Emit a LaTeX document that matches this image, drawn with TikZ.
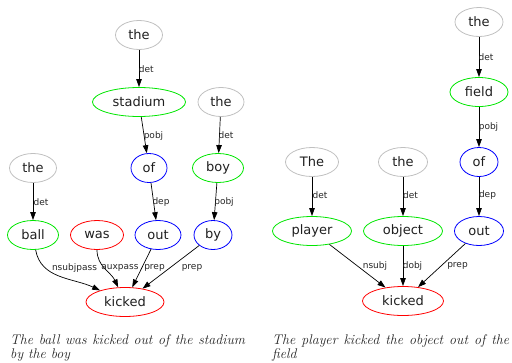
\documentclass[tikz,border=0pt]{standalone}
\usepackage{fontspec}
\newfontfamily\dvs{DejaVu Sans}
\usetikzlibrary{shapes.geometric,arrows.meta}
\definecolor{wgray}{RGB}{192,192,192}
\definecolor{wgreen}{RGB}{0,230,0}
\definecolor{wblue}{RGB}{0,0,255}
\definecolor{wred}{RGB}{255,0,0}
\tikzset{
  word/.style={ellipse, draw, line width=0.8pt, inner sep=0pt, minimum height=29pt,
    text=black!88, font=\dvs\fontsize{13}{15}\selectfont},
  detw/.style={word, draw=wgray},
  noun/.style={word, draw=wgreen},
  prepw/.style={word, draw=wblue},
  verb/.style={word, draw=wred},
  lbl/.style={inner sep=0pt, text=black!85, font=\dvs\fontsize{9}{10}\selectfont},
  arc/.style={-{Triangle[length=8pt,width=5.5pt]}, line width=0.7pt, black},
  captext/.style={inner sep=0pt, anchor=base west, font=\fontsize{14}{14.5}\selectfont\itshape, text=black!85}
}
\begin{document}
\begin{tikzpicture}[x=1pt,y=-1pt]
\useasboundingbox (0,0) rectangle (512,362);

% ---- first sentence ----
\node[detw, minimum width=47pt]  (a1)  at (139,35)  {the};
\node[noun, minimum width=93pt]  (a2)  at (139,102) {stadium};
\node[detw, minimum width=46pt]  (a3)  at (221,102) {the};
\node[prepw, minimum width=36pt] (a4)  at (149,168) {of};
\node[noun, minimum width=51pt]  (a5)  at (218,168) {boy};
\node[detw, minimum width=47pt]  (a6)  at (33,168)  {the};
\node[noun, minimum width=51pt]  (a7)  at (33,235)  {ball};
\node[verb, minimum width=53pt]  (a8)  at (97,235)  {was};
\node[prepw, minimum width=46pt] (a9)  at (158,235) {out};
\node[prepw, minimum width=38pt] (a10) at (213,235) {by};
\node[verb, minimum width=78pt]  (a11) at (125,302) {kicked};

\draw[arc] (a1) -- (a2);
\draw[arc] (a2) -- (a4);
\draw[arc] (a3) -- (a5);
\draw[arc] (a6) -- (a7);
\draw[arc] (a4) -- (a9);
\draw[arc] (a5) -- (a10);
\draw[arc] (a7) to[out=-80,in=155] (a11);
\draw[arc] (a8) to[out=-90,in=115] (a11);
\draw[arc] (a9) -- (a11);
\draw[arc] (a10) -- (a11);

\node[lbl] (l1) at (146.3,69) {det};
\node[lbl] (l2) at (153.5,136) {pobj};
\node[lbl] (l3) at (226,135) {det};
\node[lbl] (l4) at (41,202) {det};
\node[lbl] (l5) at (161,202) {dep};
\node[lbl] (l6) at (224,202) {pobj};
\node[lbl] (l7) at (74.5,268) {nsubjpass};
\node[lbl] (l8) at (120,268) {auxpass};
\node[lbl] (l9) at (154.5,268) {prep};
\node[lbl] (l10) at (192,268) {prep};

\node[captext] (c1) at (10,344) {\parbox[t]{235pt}{\noindent The ball was kicked out of the stadium by the boy}};

% ---- second sentence ----
\node[detw, minimum width=48pt]  (b1) at (479,22)  {the};
\node[noun, minimum width=58pt]  (b2) at (479,92)  {field};
\node[prepw, minimum width=38pt] (b3) at (479,162) {of};
\node[detw, minimum width=53pt]  (b4) at (312,162) {The};
\node[detw, minimum width=49pt]  (b5) at (403,162) {the};
\node[noun, minimum width=79pt]  (b6) at (312,231) {player};
\node[noun, minimum width=79pt]  (b7) at (403,231) {object};
\node[prepw, minimum width=49pt] (b8) at (479,231) {out};
\node[verb, minimum width=81pt]  (b9) at (403,301) {kicked};

\draw[arc] (b1) -- (b2);
\draw[arc] (b2) -- (b3);
\draw[arc] (b4) -- (b6);
\draw[arc] (b5) -- (b7);
\draw[arc] (b3) -- (b8);
\draw[arc] (b6) -- (b9);
\draw[arc] (b7) -- (b9);
\draw[arc] (b8) -- (b9);

\node[lbl] (m1) at (486,56.7) {det};
\node[lbl] (m2) at (488.5,127) {pobj};
\node[lbl] (m3) at (320,195) {det};
\node[lbl] (m4) at (410.5,195) {det};
\node[lbl] (m5) at (487.5,195) {dep};
\node[lbl] (m6) at (375,266) {nsubj};
\node[lbl] (m7) at (412.5,266) {dobj};
\node[lbl] (m8) at (457.5,266) {prep};

\node[captext] (c2) at (272,344) {\parbox[t]{237pt}{\noindent The player kicked the object out of the field}};
\end{tikzpicture}
\end{document}
